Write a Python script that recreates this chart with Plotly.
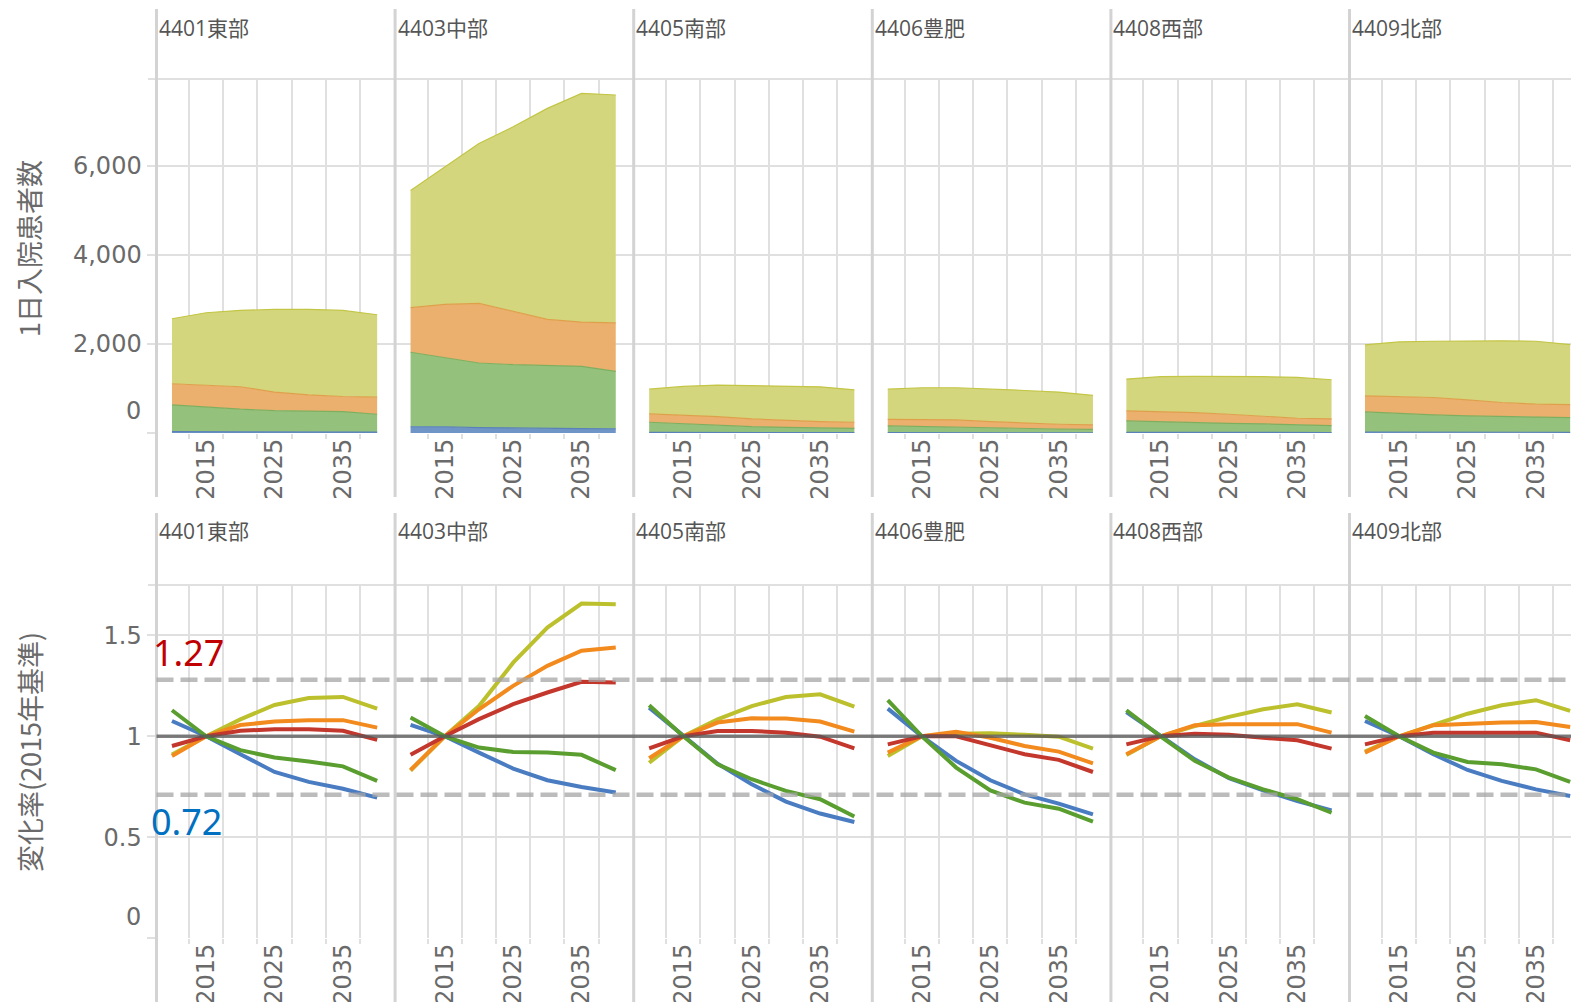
import plotly.graph_objects as go

# ---------------- data ----------------
years = [2010, 2015, 2020, 2025, 2030, 2035, 2040]
regions = ["4401東部", "4403中部", "4405南部", "4406豊肥", "4408西部", "4409北部"]

# stacked areas (1日入院患者数), one row per region
area_blue = [
    [30, 28, 26, 24, 22, 21, 20],
    [140, 140, 120, 108, 100, 98, 95],
    [12, 11, 10, 9, 8, 7, 7],
    [8, 7, 6, 6, 5, 5, 4],
    [16, 15, 14, 13, 12, 11, 10],
    [22, 21, 19, 18, 17, 16, 15],
]
area_green = [
    [602, 551, 508, 480, 475, 460, 401],
    [1673, 1545, 1452, 1427, 1420, 1399, 1289],
    [229, 192, 163, 134, 120, 113, 98],
    [150, 136, 122, 99, 93, 85, 79],
    [255, 233, 219, 205, 191, 170, 156],
    [452, 415, 387, 366, 359, 353, 331],
]
area_orange = [
    [474, 489, 505, 414, 361, 339, 384],
    [1001, 1204, 1339, 1203, 1030, 993, 1091],
    [188, 203, 196, 173, 150, 136, 136],
    [150, 165, 165, 151, 120, 106, 98],
    [226, 233, 226, 203, 166, 150, 150],
    [360, 375, 391, 361, 309, 278, 293],
]
area_yg = [
    [1459, 1633, 1715, 1858, 1918, 1933, 1851],
    [2633, 3084, 3589, 4138, 4740, 5138, 5116],
    [556, 640, 707, 752, 775, 782, 729],
    [677, 708, 723, 737, 737, 722, 662],
    [714, 783, 812, 850, 895, 918, 880],
    [1143, 1234, 1264, 1324, 1384, 1414, 1347],
]

# change ratio lines (変化率, 2015 = 1)
ratio_yg = [
    [0.91, 1, 1.084, 1.155, 1.19, 1.195, 1.137],
    [0.83, 1, 1.15, 1.365, 1.539, 1.658, 1.655],
    [0.869, 1, 1.084, 1.15, 1.195, 1.208, 1.147],
    [0.902, 1, 1.013, 1.015, 1.007, 0.998, 0.939],
    [0.907, 1, 1.051, 1.096, 1.134, 1.159, 1.118],
    [0.924, 1, 1.056, 1.112, 1.154, 1.179, 1.126],
]
ratio_orange = [
    [0.902, 1, 1.056, 1.073, 1.08, 1.08, 1.043],
    [0.833, 1, 1.134, 1.25, 1.349, 1.424, 1.44],
    [0.891, 1, 1.068, 1.089, 1.088, 1.073, 1.023],
    [0.919, 1, 1.023, 0.993, 0.952, 0.924, 0.866],
    [0.911, 1, 1.055, 1.06, 1.06, 1.06, 1.018],
    [0.919, 1, 1.055, 1.064, 1.068, 1.071, 1.046],
]
ratio_red = [
    [0.952, 1, 1.027, 1.035, 1.035, 1.027, 0.982],
    [0.908, 1, 1.085, 1.159, 1.217, 1.27, 1.267],
    [0.94, 1, 1.026, 1.026, 1.018, 0.998, 0.94],
    [0.96, 1, 1.0, 0.957, 0.911, 0.883, 0.823],
    [0.96, 1, 1.013, 1.007, 0.993, 0.98, 0.939],
    [0.96, 1, 1.018, 1.018, 1.018, 1.018, 0.98],
]
ratio_green = [
    [1.129, 1, 0.931, 0.895, 0.875, 0.851, 0.779],
    [1.093, 1, 0.944, 0.922, 0.919, 0.908, 0.832],
    [1.154, 1, 0.861, 0.787, 0.729, 0.688, 0.602],
    [1.179, 1, 0.845, 0.732, 0.671, 0.641, 0.577],
    [1.129, 1, 0.878, 0.795, 0.737, 0.688, 0.621],
    [1.101, 1, 0.919, 0.873, 0.861, 0.836, 0.774],
]
ratio_blue = [
    [1.076, 1, 0.911, 0.823, 0.774, 0.74, 0.696],
    [1.057, 1, 0.919, 0.84, 0.782, 0.749, 0.721],
    [1.142, 1, 0.864, 0.762, 0.676, 0.617, 0.575],
    [1.137, 1, 0.878, 0.782, 0.712, 0.666, 0.613],
    [1.12, 1, 0.886, 0.792, 0.732, 0.679, 0.633],
    [1.076, 1, 0.911, 0.833, 0.779, 0.737, 0.704],
]

upper_ref, upper_label = 1.28, "1.27"
lower_ref, lower_label = 0.71, "0.72"

top_ticks = [0, 2000, 4000, 6000]
top_ticktext = ["", "2,000", "4,000", "6,000"]
bot_ticks = [0, 0.5, 1, 1.5]
bot_ticktext = ["", "0.5", "1", "1.5"]
x_ticks = [2015, 2025, 2035]
x_grid = [2012.5, 2017.5, 2022.5, 2027.5, 2032.5, 2037.5]

# ---------------- styling ----------------
PAGE_W, PAGE_H = 1579, 1002
OFF = 8                       # default page margin around the plot div
W, H = PAGE_W - OFF, PAGE_H - OFF
L0, PW = 156.5, 238.6         # page-pixel left edge of first panel, panel width
PX_PER_YEAR = 6.84
X0 = 2007.74
GRID = "#e0e0e0"
SEP = "#d3d3d3"
TXT = "#6a6a6a"
NUM_FONT = "DejaVu Sans, sans-serif"
HEAD_FONT = "Open Sans, Noto Sans CJK JP, sans-serif"
CJK_FONT = "Noto Sans CJK JP, sans-serif"

area_style = [
    (area_blue, "#6f95c6", "#5a82b8"),
    (area_green, "#94c27c", "#7fae5f"),
    (area_orange, "#ebb06d", "#dfa04c"),
    (area_yg, "#d4d67d", "#c3c544"),
]
line_style = [
    (ratio_yg, "#bcc02c"),
    (ratio_orange, "#f28a1e"),
    (ratio_red, "#c4372c"),
    (ratio_blue, "#4a7cc2"),
    (ratio_green, "#5a9e2f"),
]


def fx(p):
    return (p - OFF) / W


def fy(p):
    return 1 - (p - OFF) / H


top_dom = [fy(433), fy(79)]
bot_dom = [fy(938), fy(585)]

fig = go.Figure()
layout = {}
annotations = []
shapes = []

for k, name in enumerate(regions):
    left = L0 + PW * k
    right = min(left + PW, PAGE_W)
    xdom = [fx(left), min(fx(right), 1.0)]
    xr = [X0, X0 + (xdom[1] * W + OFF - left) / PX_PER_YEAR]
    first = k == 0
    for row, idx in (("top", k + 1), ("bot", k + 7)):
        xa = "xaxis" if idx == 1 else f"xaxis{idx}"
        ya = "yaxis" if idx == 1 else f"yaxis{idx}"
        layout[xa] = dict(
            domain=xdom, range=xr, anchor=f"y{idx}" if idx > 1 else "y",
            tickmode="array", tickvals=x_ticks, ticktext=[str(t) for t in x_ticks],
            tickangle=-90, ticks="", showgrid=False, zeroline=False, showline=False,
            tickfont=dict(size=24, color=TXT, family=NUM_FONT),
            minor=dict(tickmode="array", tickvals=x_grid, showgrid=True,
                       gridcolor=GRID, gridwidth=2, ticks="outside", ticklen=5,
                       tickwidth=2, tickcolor=GRID),
            automargin=False, fixedrange=True,
        )
        if row == "top":
            yrange, ydom, tv, tt = [0, 7950], top_dom, top_ticks, top_ticktext
        else:
            yrange, ydom, tv, tt = [0, 1.75], bot_dom, bot_ticks, bot_ticktext
        layout[ya] = dict(
            domain=ydom, range=yrange, anchor=f"x{idx}" if idx > 1 else "x",
            tickmode="array", tickvals=tv, ticktext=tt,
            showticklabels=first, ticks="outside" if first else "",
            ticklen=9, tickwidth=2, tickcolor=GRID,
            showgrid=True, gridcolor=GRID, gridwidth=2, zeroline=False, showline=False,
            tickfont=dict(size=24, color=TXT, family=NUM_FONT),
            automargin=False, fixedrange=True,
        )

    # stacked areas
    for series, fill, edge in area_style:
        fig.add_trace(go.Scatter(
            x=years, y=series[k], mode="lines", stackgroup=f"s{k}",
            line=dict(width=1.2, color=edge), fillcolor=fill,
            xaxis=f"x{k+1}" if k else "x", yaxis=f"y{k+1}" if k else "y",
            showlegend=False, hoverinfo="skip",
        ))
    # ratio lines
    for series, col in line_style:
        fig.add_trace(go.Scatter(
            x=years, y=series[k], mode="lines",
            line=dict(width=4, color=col),
            xaxis=f"x{k+7}", yaxis=f"y{k+7}",
            showlegend=False, hoverinfo="skip",
        ))

    # panel headers
    for ycen in (28, 531):
        annotations.append(dict(
            text=name, x=fx(left + 0.5), y=fy(ycen), xref="paper", yref="paper",
            xanchor="left", yanchor="middle", showarrow=False,
            font=dict(size=21, color="#555555", family=HEAD_FONT),
        ))
    # separators
    shapes.append(dict(type="line", xref="paper", yref="paper",
                       x0=fx(left), x1=fx(left), y0=fy(9), y1=fy(497),
                       line=dict(color=SEP, width=3), layer="above"))
    shapes.append(dict(type="line", xref="paper", yref="paper",
                       x0=fx(left), x1=fx(left), y0=fy(513), y1=0,
                       line=dict(color=SEP, width=3), layer="above"))

# top borders of both rows
for ytop in (79, 585):
    shapes.append(dict(type="line", xref="paper", yref="paper",
                       x0=fx(148), x1=1, y0=fy(ytop), y1=fy(ytop),
                       line=dict(color=GRID, width=2), layer="below"))

# reference lines on ratio row
shapes.append(dict(type="line", xref="paper", yref="y7", x0=fx(L0), x1=1,
                   y0=1, y1=1, line=dict(color="rgba(85,85,85,0.75)", width=3.5),
                   layer="above"))
for v in (upper_ref, lower_ref):
    shapes.append(dict(type="line", xref="paper", yref="y7", x0=fx(L0), x1=1,
                       y0=v, y1=v,
                       line=dict(color="rgba(165,165,165,0.75)", width=4.5, dash="17px,7px"),
                       layer="above"))

# zero labels sitting above the baseline
annotations.append(dict(text="0", x=fx(143), xref="paper", y=0, yref="y",
                        xanchor="right", yanchor="middle", yshift=22, showarrow=False,
                        font=dict(size=24, color=TXT, family=NUM_FONT)))
annotations.append(dict(text="0", x=fx(143), xref="paper", y=0, yref="y7",
                        xanchor="right", yanchor="middle", yshift=21, showarrow=False,
                        font=dict(size=24, color=TXT, family=NUM_FONT)))

# axis titles
annotations.append(dict(text="1日入院患者数", x=fx(29), y=fy(249), xref="paper", yref="paper",
                        textangle=-90, showarrow=False, xanchor="center", yanchor="middle",
                        font=dict(size=27, color=TXT, family=CJK_FONT)))
annotations.append(dict(text="変化率(2015年基準)", x=fx(29), y=fy(752), xref="paper", yref="paper",
                        textangle=-90, showarrow=False, xanchor="center", yanchor="middle",
                        font=dict(size=27, color=TXT, family=CJK_FONT)))

# highlighted values
annotations.append(dict(text=upper_label, x=fx(151), y=fy(652), xref="paper", yref="paper",
                        xanchor="left", yanchor="middle", showarrow=False,
                        font=dict(size=36, color="#c00000", family="Noto Sans, sans-serif")))
annotations.append(dict(text=lower_label, x=fx(149), y=fy(821), xref="paper", yref="paper",
                        xanchor="left", yanchor="middle", showarrow=False,
                        font=dict(size=36, color="#0070c0", family="Noto Sans, sans-serif")))

fig.update_layout(
    template="none",
    width=W, height=H,
    margin=dict(l=0, r=0, t=0, b=0, pad=0),
    paper_bgcolor="white", plot_bgcolor="rgba(0,0,0,0)",
    showlegend=False,
    annotations=annotations,
    shapes=shapes,
    **layout,
)

fig.write_html("out.html", config=dict(displayModeBar=False))
